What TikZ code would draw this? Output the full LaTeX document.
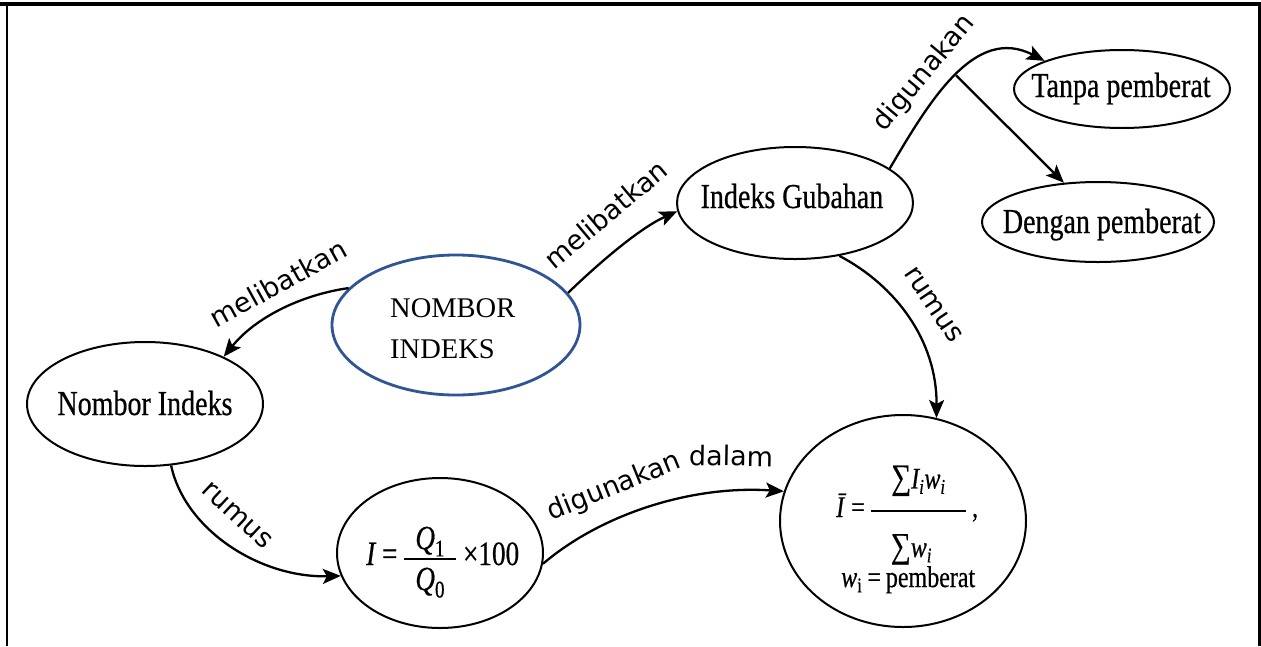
\documentclass[tikz,border=0pt]{standalone}
\usepackage{fontspec}
\usepackage{amsmath}
\setmainfont{Liberation Serif}
\newfontfamily\condserif{Liberation Serif}[FakeStretch=0.8,FakeBold=0.5]
\newfontfamily\handfont{DejaVu Sans}
\usetikzlibrary{shapes.geometric,arrows.meta}
\newcommand\lblfont{\handfont\fontsize{27}{29}\selectfont}
\newcommand\boxfont{\condserif\fontsize{35}{38}\selectfont}
\newcommand\bigsum{{\fontsize{35}{35}\selectfont ∑}}
\definecolor{ovalblue}{RGB}{47,85,151}
\begin{document}
\begin{tikzpicture}[x=1pt,y=-1pt,
  bubble/.style={draw, ellipse, line width=2pt, inner sep=0pt},
  conn/.style={line width=2.3pt, -{Stealth[length=18pt,width=15pt,inset=4pt]}},
  boxtext/.style={font=\boxfont, inner sep=0pt, anchor=base},
  lbl/.style={font=\lblfont, inner sep=0pt, anchor=base}]
\useasboundingbox (0,0) rectangle (1261,646);
\fill[white] (0,0) rectangle (1261,646);

% page frame
\draw[line width=3.2pt] (0,4) -- (1261,4);
\draw[line width=2.6pt] (7,4) -- (7,646);
\draw[line width=2.6pt] (1259.5,4) -- (1259.5,646);

% ovals
\node[draw=ovalblue, ellipse, line width=2.8pt, minimum width=248pt, minimum height=140pt] (main) at (456,325) {};
\node[bubble, minimum width=236pt, minimum height=124pt] (ni) at (145,404) {};
\node[bubble, minimum width=236pt, minimum height=112pt] (ig) at (795,203) {};
\node[bubble, minimum width=216pt, minimum height=78pt] (tp) at (1122,89) {};
\node[bubble, minimum width=232pt, minimum height=80pt] (dp) at (1098,222) {};
\node[bubble, minimum width=206pt, minimum height=150pt] (f1) at (440,553) {};
\node[bubble, minimum width=246pt, minimum height=212pt] (f2) at (903,521) {};

% oval texts
\node[font=\fontsize{28.5}{30}\selectfont, inner sep=0pt, anchor=base west] (mainA) at (390,317) {NOMBOR};
\node[font=\fontsize{28.5}{30}\selectfont, inner sep=0pt, anchor=base west] (mainB) at (390,358) {INDEKS};
\node[boxtext] (niT) at (145,415) {Nombor Indeks};
\node[boxtext] (igT) at (792,208) {Indeks Gubahan};
\node[boxtext] (tpT) at (1121,97) {Tanpa pemberat};
\node[boxtext] (dpT) at (1102,233) {Dengan pemberat};

% formulas
\node[inner sep=0pt, anchor=base west] (f1T) at (366,565)
  {\condserif\fontsize{34}{36}\selectfont \textit{I}\,=\,$\genfrac{}{}{1.6pt}{1}%
   {\hbox to 52pt{\hss$\textit{Q}_{\text{1}}$\hss}}%
   {\hbox to 52pt{\hss\rule{0pt}{29pt}$\textit{Q}_{\text{0}}$\hss}}$\,×100};
\node[inner sep=0pt, anchor=base west] (f2T) at (836,517)
  {\condserif\fontsize{30}{32}\selectfont \textit{Ī}\,=\,$\genfrac{}{}{1.8pt}{0}%
   {\hbox to 95pt{\hss\bigsum$\textit{I}_{\textit{i}}\textit{w}_{\textit{i}}$\hss}\rule[-16pt]{0pt}{0pt}}%
   {\rule{0pt}{40pt}\hbox to 95pt{\hss\bigsum$\textit{w}_{\textit{i}}$\hss\hskip 14pt}}$\,,};
\node[inner sep=0pt, anchor=base west] (f2W) at (841,587)
  {\condserif\fontsize{30}{32}\selectfont \textit{w}$_{\text{i}}$\,=\,pemberat};

% connectors
\draw[conn] (main.161) .. controls (300,295) and (255,318) .. (ni.31);
\draw[conn] (main.16) .. controls (600,262) and (640,228) .. (ig.184);
\draw[conn] (ig.20) .. controls (930,100) and (975,25) .. (tp.160) coordinate[pos=0.5] (split);
\draw[conn] (split) -- (dp.131);
\draw[conn] (ig.310) .. controls (895,285) and (937,340) .. (f2.72);
\draw[conn] (ni.293) .. controls (185,530) and (260,578) .. (f1.193);
\draw[conn] (f1.354) .. controls (600,515) and (690,485) .. (f2.166);

% connector labels
\node[lbl, rotate=29] (l1) at (283,292) {melibatkan};
\node[lbl, rotate=40] (l2) at (612,222) {melibatkan};
\node[lbl, rotate=50] (l3) at (930,78) {digunakan};
\node[lbl, rotate=-56] (l4) at (927,309) {rumus};
\node[lbl, rotate=-43] (l5) at (232,521) {rumus};
\node[lbl, rotate=22] (l6a) at (617,494) {digunakan};
\node[lbl, rotate=-1] (l6b) at (731,466) {dalam};
\end{tikzpicture}
\end{document}
